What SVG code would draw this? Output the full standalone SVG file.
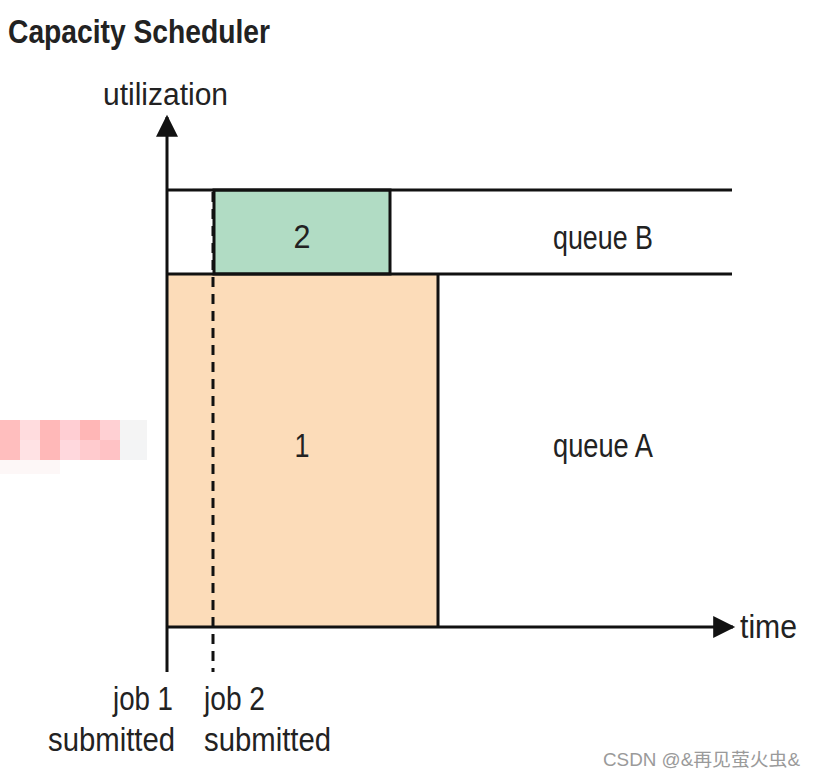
<svg xmlns="http://www.w3.org/2000/svg" width="816" height="777" viewBox="0 0 816 777">
<style>
.t{font-family:"Liberation Sans",Arial,sans-serif;fill:#222;}
.ln{stroke:#111;stroke-width:3;fill:none;}
</style>
<defs>
<marker id="ah" viewBox="0 0 10 10" refX="9" refY="5" markerWidth="23" markerHeight="22" markerUnits="userSpaceOnUse" orient="auto">
<path d="M0,0 L10,5 L0,10 z" fill="#111"/>
</marker>
</defs>
<rect width="816" height="777" fill="#fff"/>
<g id="mosaic" opacity="0.85">
<rect x="0" y="420" width="20" height="20" fill="#ffb3b3"/>
<rect x="20" y="420" width="20" height="20" fill="#ffd6d9"/>
<rect x="40" y="420" width="20" height="20" fill="#ffacac"/>
<rect x="60" y="420" width="20" height="20" fill="#ffc6cc"/>
<rect x="80" y="420" width="20" height="20" fill="#ffaaaa"/>
<rect x="100" y="420" width="20" height="20" fill="#ffc8cc"/>
<rect x="120" y="420" width="27" height="20" fill="#f3f3f3"/>
<rect x="0" y="440" width="20" height="20" fill="#ffb3b3"/>
<rect x="20" y="440" width="20" height="20" fill="#ffdde0"/>
<rect x="40" y="440" width="20" height="20" fill="#ffacac"/>
<rect x="60" y="440" width="20" height="20" fill="#ffd2d8"/>
<rect x="80" y="440" width="20" height="20" fill="#ffc2c6"/>
<rect x="100" y="440" width="20" height="20" fill="#ffb8bb"/>
<rect x="120" y="440" width="27" height="20" fill="#f2f3f4"/>
<rect x="0" y="460" width="60" height="14" fill="#fdf6f6"/>
</g>
<text class="t" x="8" y="43" font-size="33" font-weight="bold" textLength="262" lengthAdjust="spacingAndGlyphs">Capacity Scheduler</text>
<text class="t" x="103" y="105" font-size="31" textLength="125" lengthAdjust="spacingAndGlyphs">utilization</text>
<g id="job1">
<rect x="167" y="274" width="271" height="353" fill="#fcdcb9"/>
<line class="ln" x1="438" y1="274" x2="438" y2="627"/>
<text class="t" x="302" y="457" font-size="34" text-anchor="middle" textLength="15" lengthAdjust="spacingAndGlyphs">1</text>
</g>
<g id="job2">
<rect x="214" y="190" width="176" height="84" fill="#b1dcc4" stroke="#111" stroke-width="3"/>
<text class="t" x="302" y="248" font-size="34" text-anchor="middle" textLength="17" lengthAdjust="spacingAndGlyphs">2</text>
</g>
<g id="connectors">
<line class="ln" x1="167" y1="190" x2="732" y2="190"/>
<line class="ln" x1="167" y1="274" x2="732" y2="274"/>
<line class="ln" x1="167" y1="672" x2="167" y2="117" marker-end="url(#ah)"/>
<line class="ln" x1="167" y1="627" x2="733" y2="627" marker-end="url(#ah)"/>
<line x1="213" y1="192" x2="213" y2="672" stroke="#111" stroke-width="3" stroke-dasharray="10,7"/>
</g>
<text class="t" x="603" y="249" font-size="33" text-anchor="middle" textLength="100" lengthAdjust="spacingAndGlyphs">queue B</text>
<text class="t" x="603" y="457" font-size="33" text-anchor="middle" textLength="100" lengthAdjust="spacingAndGlyphs">queue A</text>
<text class="t" x="740" y="638" font-size="33" textLength="57" lengthAdjust="spacingAndGlyphs">time</text>
<text class="t" x="173" y="710" font-size="33" text-anchor="end" textLength="60" lengthAdjust="spacingAndGlyphs">job 1</text>
<text class="t" x="175" y="751" font-size="33" text-anchor="end" textLength="127" lengthAdjust="spacingAndGlyphs">submitted</text>
<text class="t" x="204" y="710" font-size="33" textLength="61" lengthAdjust="spacingAndGlyphs">job 2</text>
<text class="t" x="204" y="751" font-size="33" textLength="127" lengthAdjust="spacingAndGlyphs">submitted</text>
<text x="603" y="766" font-size="18" fill="#9a9a9a" textLength="197" lengthAdjust="spacingAndGlyphs" font-family="'Liberation Sans','Noto Sans CJK SC',sans-serif">CSDN @&amp;再见萤火虫&amp;</text>
</svg>
